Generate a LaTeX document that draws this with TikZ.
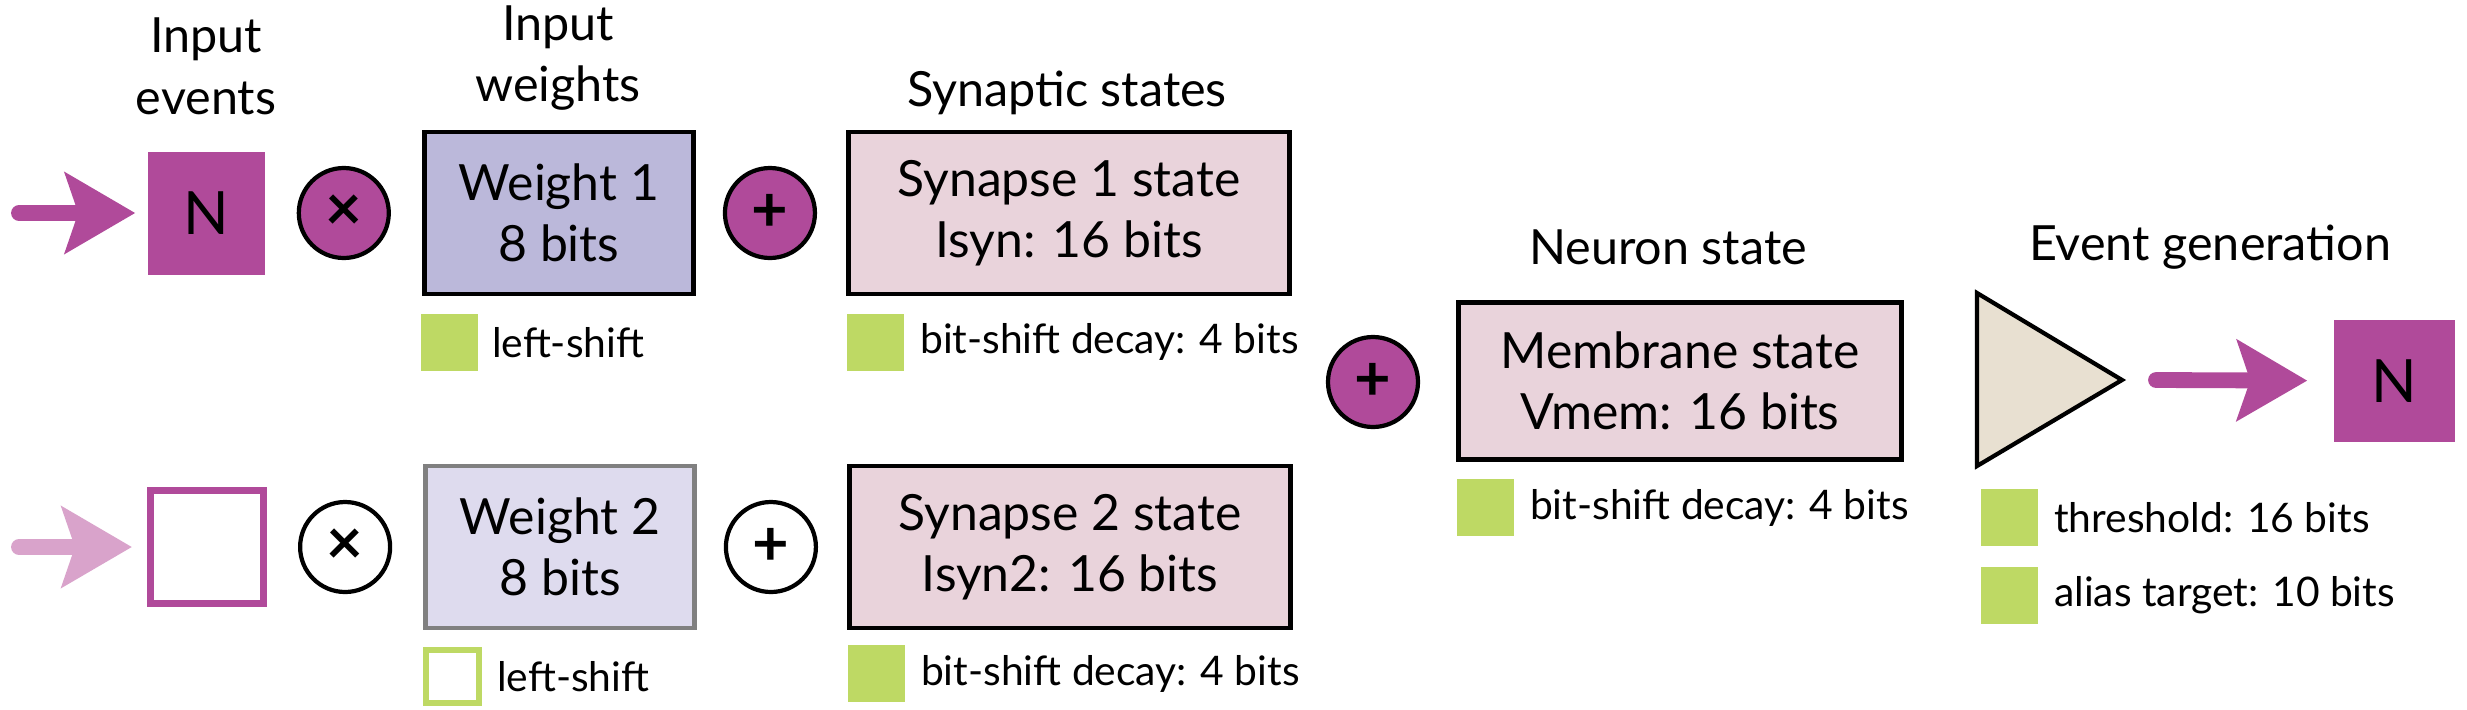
\documentclass[tikz,border=0pt]{standalone}
\usepackage{fontspec}
\setmainfont{Lato}
\usepackage{tikz}
\usetikzlibrary{arrows.meta, positioning}
\definecolor{evpurple}{RGB}{176,74,154}
\definecolor{evpink}{RGB}{217,163,203}
\definecolor{wgtlav}{RGB}{187,184,218}
\definecolor{wgtpale}{RGB}{222,219,238}
\definecolor{synpink}{RGB}{233,211,219}
\definecolor{thrbeige}{RGB}{232,224,209}
\definecolor{cfggreen}{RGB}{190,217,100}
\definecolor{edgegray}{RGB}{128,128,128}
\tikzset{
  evbox/.style={rectangle, fill=evpurple, minimum width=1.17cm,
    minimum height=1.23cm, font=\fontsize{17}{18}\selectfont},
  evempty/.style={rectangle, draw=evpurple, fill=white, line width=2pt,
    minimum size=1.13cm},
  opcircle/.style={circle, draw=black, line width=1.2pt, minimum size=0.9cm,
    font=\bfseries\fontsize{18}{18}\selectfont},
  wbox/.style={rectangle, draw=black, line width=1.4pt, align=center,
    minimum width=2.69cm, minimum height=1.62cm,
    font=\fontsize{14.2}{17.5}\selectfont},
  sbox/.style={wbox, fill=synpink, minimum width=4.41cm},
  hdr/.style={align=center, font=\fontsize{13.8}{17.6}\selectfont},
  flag/.style={rectangle, fill=cfggreen, minimum size=0.57cm},
  flagoff/.style={rectangle, draw=cfggreen, fill=white, line width=1.5pt,
    minimum size=0.53cm},
  flaglbl/.style={font=\fontsize{11.6}{13}\selectfont},
  evarrow/.style={-{Stealth[length=7mm, width=8mm, inset=1.3mm]},
    line width=4.5pt, line cap=round, color=evpurple},
  thrtri/.style={draw=black, fill=thrbeige, line width=1.2pt, line join=miter}
}
\begin{document}
\begin{tikzpicture}[every node/.style={inner sep=0pt}]
  \useasboundingbox (0,0) rectangle (24.67,7.09);

  % headers
  \node[hdr] (hdevents) at (2.06,6.43) {Input\\events};
  \node[hdr] (hdweights) at (5.58,6.51) {Input\\weights};
  \node[hdr] (hdsyn) at (10.67,6.16) {Synaptic states};
  \node[hdr] (hdneuron) at (16.68,4.62) {Neuron state};
  \node[hdr] (hdevgen) at (22.10,4.62) {Event generation};

  % synapse 1 (active)
  \node[evbox] (ev1) at (2.065,4.96) {N};
  \node[opcircle, fill=evpurple, right=0.31cm of ev1] (mul1) {×};
  \node[wbox, fill=wgtlav, right=0.31cm of mul1] (w1) {Weight 1\\8 bits};
  \node[opcircle, fill=evpurple, right=0.27cm of w1] (add1) {+};
  \node[sbox, right=0.29cm of add1] (syn1) {Synapse 1 state\\Isyn: 16 bits};

  % synapse 2 (idle)
  \node[evempty] (ev2) at (2.07,1.62) {};
  \node[opcircle, fill=white, right=0.31cm of ev2] (mul2) {×};
  \node[wbox, draw=edgegray, fill=wgtpale, line width=1.3pt, right=0.31cm of mul2] (w2) {Weight 2\\8 bits};
  \node[opcircle, fill=white, right=0.27cm of w2] (add2) {+};
  \node[sbox, right=0.29cm of add2] (syn2) {Synapse 2 state\\Isyn2: 16 bits};

  % neuron
  \node[opcircle, fill=evpurple] (add3) at (13.73,3.27) {+};
  \node[sbox, minimum width=4.43cm, minimum height=1.57cm] (mem) at (16.80,3.28) {Membrane state\\Vmem: 16 bits};

  % threshold and output event
  \draw[thrtri] (19.77,4.16) -- (21.22,3.29) -- (19.77,2.43) -- cycle;
  \coordinate (thrtip) at (21.22,3.29);
  \coordinate (thrbase) at (19.80,2.43);
  \node[evbox, minimum width=1.21cm, minimum height=1.22cm] (ev3) at (23.945,3.28) {N};

  % arrows
  \coordinate (in1) at (0.19,4.96);
  \coordinate (in2) at (0.19,1.62);
  \coordinate (fire) at (21.56,3.29);
  \draw[evarrow, shorten >=1.2mm] (in1) -- (ev1);
  \draw[evarrow, color=evpink, shorten >=1.5mm] (in2) -- (ev2);
  \draw[evarrow, shorten >=2.6mm] (fire) -- (ev3);

  % parameters
  \node[flag, anchor=north west] (w1f) at ([shift={(-0.02,-0.17)}]w1.south west) {};
  \node[flaglbl, right=0.13cm of w1f] {left-shift};
  \node[flagoff, anchor=north west] (w2f) at ([shift={(0.0,-0.17)}]w2.south west) {};
  \node[flaglbl, right=0.15cm of w2f] {left-shift};
  \node[flag, anchor=north west] (syn1f) at ([shift={(0.0,-0.165)}]syn1.south west) {};
  \node[flaglbl, right=0.15cm of syn1f] {bit-shift decay: 4 bits};
  \node[flag, anchor=north west] (syn2f) at ([shift={(0.0,-0.14)}]syn2.south west) {};
  \node[flaglbl, right=0.15cm of syn2f] {bit-shift decay: 4 bits};
  \node[flag, anchor=north west] (memf) at ([shift={(0.0,-0.165)}]mem.south west) {};
  \node[flaglbl, right=0.15cm of memf] {bit-shift decay: 4 bits};
  \node[flag, anchor=north west] (thrf) at ([yshift=-0.22cm]thrbase) {};
  \node[flaglbl, right=0.15cm of thrf] {threshold: 16 bits};
  \node[flag, below=0.2cm of thrf] (aliasf) {};
  \node[flaglbl, right=0.15cm of aliasf] {alias target: 10 bits};
\end{tikzpicture}
\end{document}
